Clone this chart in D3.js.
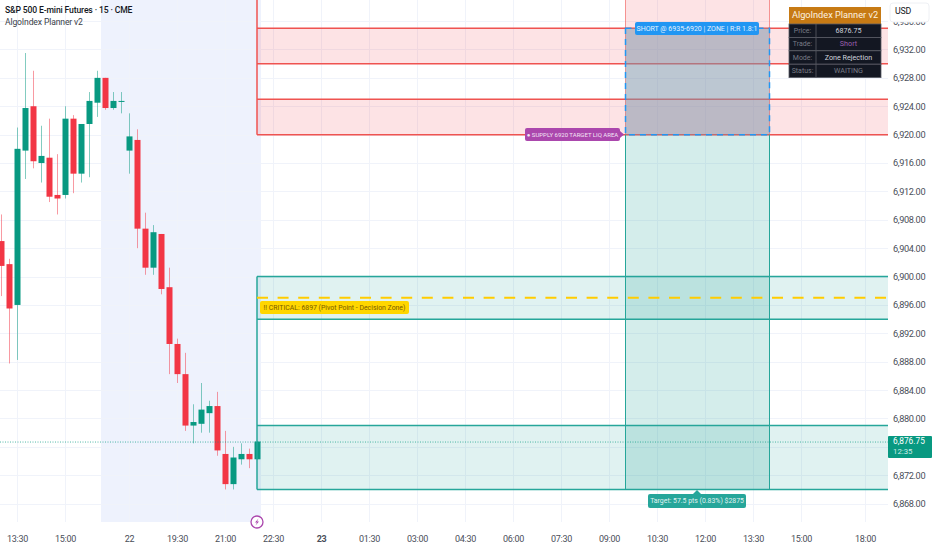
<!DOCTYPE html>
<html><head><meta charset="utf-8">
<script src="https://cdn.jsdelivr.net/npm/d3@7/dist/d3.min.js"></script>
<style>html,body{margin:0;padding:0;background:#fff;overflow:hidden}svg{display:block}text{font-family:Roboto,"Liberation Sans",sans-serif}</style>
</head><body><svg id="c" width="932" height="550"></svg>
<script>
const highs =[6908.75,6902.5,6921,6931.5,6929,6921.25,6922.25,6917.25,6924,6922.75,6921.5,6926,6929,6928,6926,6926,6923,6920.75,6909,6907.25,6906,6901.25,6891.25,6889.25,6882,6885,6882.5,6883.75,6878.25,6876,6876.5,6875.75,6876.75];
const opens =[6905,6901.75,6896,6917.75,6924,6916,6916.75,6911.5,6911.5,6922.25,6914.5,6921.5,6924.5,6928,6923.75,6924.75,6917.75,6919.25,6906.75,6901.25,6906,6898.5,6890.5,6886.25,6879,6879.25,6880.75,6881.75,6875,6870.75,6874.25,6875,6874.25];
const closes=[6901.5,6895.5,6918,6923.75,6916.25,6917,6911.25,6911,6922.25,6914.5,6921.5,6924.75,6928,6923.75,6924.75,6924.75,6919.75,6906.75,6901.25,6906.25,6898.25,6890.5,6886.25,6879,6879.5,6881.25,6881.75,6875.5,6870.75,6874.5,6875,6874.25,6876.75];
const lows  =[6897.25,6887.75,6888.25,6913.75,6915.25,6913.25,6910.5,6908.75,6911,6911.75,6913.25,6914,6922.5,6923.5,6923.5,6923,6914.5,6904,6900.25,6900.25,6897.5,6886.25,6885,6878.25,6876.5,6878,6878,6874.75,6870,6870,6873.5,6873,6874.25];
const gridPrices=[6868,6872,6876,6880,6884,6888,6892,6896,6900,6904,6908,6912,6916,6920,6924,6928,6932,6936];
const priceTicks=[6868,6872,6880,6884,6888,6892,6896,6900,6904,6908,6912,6916,6920,6924,6928,6932,6936];
const timeLabels=["13:30","15:00","22","19:30","21:00","22:30","23","01:30","03:00","04:30","06:00","07:30","09:00","10:30","12:00","13:30","15:00","18:00"];
const timeBars=[2,8,16,22,28,34,40,46,52,58,64,70,76,82,88,94,100,108];
const boldTimes=["23"];
const resistanceZones=[[6935,6930],[6925,6920]];
const supportZones=[[6900,6894],[6879,6870]];
const lastPrice=6876.75, criticalLevel=6897;
const sessionBars=[12.5,32.5], zoneStartBar=32, boxBars=[78,96], shortZone=[6935,6920], targetZone=[6920,6870];
const panelRows=[["Price:","6876.75","#d1d4dc"],["Trade:","Short","#9c5fb0"],["Mode:","Zone Rejection","#d1d4dc"],["Status:","WAITING","#787b86"]];

const W=932,H=550,plotR=888,plotB=522;
const x=d3.scaleLinear().domain([0,108]).range([1,865]);
const y=d3.scaleLinear().domain([6938.93,6865.37]).range([0.3,plotB+.3]);
const svg=d3.select("#c");
const G=svg.append("g");

G.append("rect").attr("x",x(sessionBars[0])).attr("width",x(sessionBars[1])-x(sessionBars[0]))
 .attr("y",0).attr("height",plotB).attr("fill","#eef2fd");

G.selectAll(".gh").data(gridPrices).join("line").attr("x1",0).attr("x2",plotR)
 .attr("y1",d=>Math.round(y(d))+.5).attr("y2",d=>Math.round(y(d))+.5).attr("stroke","#f0f3fa");
G.selectAll(".gv").data(timeBars).join("line").attr("x1",d=>x(d)+.5).attr("x2",d=>x(d)+.5)
 .attr("y1",0).attr("y2",plotB).attr("stroke","#f0f3fa");

const idx=d3.range(closes.length);
const col=i=>closes[i]>=opens[i]?"#089981":"#f23645";
G.selectAll(".w").data(idx).join("line").attr("x1",i=>x(i)+.5).attr("x2",i=>x(i)+.5)
 .attr("y1",i=>y(highs[i])).attr("y2",i=>y(lows[i])).attr("stroke",col).attr("stroke-opacity",.5).attr("stroke-width",1);
G.selectAll(".b").data(idx).join("rect").attr("x",i=>x(i)-2.5).attr("width",6)
 .attr("y",i=>y(Math.max(opens[i],closes[i]))).attr("height",i=>Math.max(1,Math.abs(y(opens[i])-y(closes[i])))).attr("fill",col);

const zx0=x(zoneStartBar), bx0=x(boxBars[0])+.5, bx1=x(boxBars[1])+.5;
const RED="#ef5350", TEAL="#26a69a";
function zones(data,fill,stroke){
  G.selectAll(null).data(data).join("rect").attr("x",zx0).attr("width",plotR-zx0)
   .attr("y",d=>y(d[0])).attr("height",d=>y(d[1])-y(d[0])).attr("fill",fill);
  const lv=data.flat();
  G.selectAll(null).data(lv).join("line").attr("x1",zx0).attr("x2",plotR)
   .attr("y1",d=>y(d)).attr("y2",d=>y(d)).attr("stroke",stroke).attr("stroke-width",1.5);
}
zones(resistanceZones,"rgba(242,54,69,.14)",RED);
zones(supportZones,"rgba(38,166,154,.14)",TEAL);
G.append("line").attr("x1",zx0).attr("x2",zx0).attr("y1",0).attr("y2",y(shortZone[1])).attr("stroke",RED).attr("stroke-width",1.5);
G.append("line").attr("x1",zx0).attr("x2",zx0).attr("y1",y(supportZones[0][0])).attr("y2",y(supportZones[1][1])).attr("stroke",TEAL).attr("stroke-width",1.5);

G.append("rect").attr("x",bx0).attr("width",bx1-bx0).attr("y",0).attr("height",y(targetZone[0])).attr("fill","rgba(242,54,69,.14)");
G.append("rect").attr("x",bx0).attr("width",bx1-bx0).attr("y",y(targetZone[0])).attr("height",y(targetZone[1])-y(targetZone[0])).attr("fill","rgba(38,166,154,.2)");
[bx0,bx1].forEach(v=>{
  G.append("line").attr("x1",v).attr("x2",v).attr("y1",0).attr("y2",y(targetZone[0])).attr("stroke",RED).attr("stroke-opacity",.6);
  G.append("line").attr("x1",v).attr("x2",v).attr("y1",y(targetZone[0])).attr("y2",y(targetZone[1])).attr("stroke",TEAL);
});
G.append("rect").attr("x",bx0).attr("width",bx1-bx0).attr("y",y(shortZone[0])).attr("height",y(shortZone[1])-y(shortZone[0]))
 .attr("fill","rgba(108,163,187,.45)").attr("stroke","#2196f3").attr("stroke-width",1.5).attr("stroke-dasharray","6 5");

G.append("line").attr("x1",zx0).attr("x2",plotR).attr("y1",y(criticalLevel)).attr("y2",y(criticalLevel))
 .attr("stroke","#ffcc00").attr("stroke-width",2).attr("stroke-dasharray","11 9.6");
G.append("line").attr("x1",0).attr("x2",plotR).attr("y1",y(lastPrice)+.5).attr("y2",y(lastPrice)+.5)
 .attr("stroke","#089981").attr("stroke-opacity",.7).attr("stroke-dasharray","1 1.5");

function label(x0,y0,w,h,bg,txt,color,fs){
  G.append("rect").attr("x",x0).attr("y",y0).attr("width",w).attr("height",h).attr("rx",2).attr("fill",bg);
  G.append("text").attr("x",x0+w/2).attr("y",y0+h/2+.5).attr("dominant-baseline","middle").attr("text-anchor","middle")
   .attr("font-size",fs).attr("fill",color).text(txt);
}
label(635,22,124,13,"#2196f3","SHORT @ 6935-6920 | ZONE | R:R 1.8:1","#e3f2fd",7);
label(525,128,95,13,"#ab47ad","● SUPPLY 6920 TARGET LIQ AREA","#f3e5f5",6);
G.append("path").attr("d","M620,131L624,134.500L620,138Z").attr("fill","#ab47ad");
label(260,301,149,13,"#ffd600","‼ CRITICAL: 6897 (Pivot Point - Decision Zone)","#7a5c00",6.9);
label(648,494,98,14,"#26a69a","Target: 57.5 pts (0.83%) $2875","#e0f2f1",6.9);
G.append("path").attr("d","M693,494L697,490L701,494Z").attr("fill","#26a69a");

G.append("circle").attr("cx",zx0).attr("cy",plotB).attr("r",6).attr("fill","#fff").attr("stroke","#ab47ad").attr("stroke-width",1.3);
G.append("path").attr("transform",`translate(${zx0},${plotB})`).attr("d","M1.500,-3.500L-2,.5H0L-1.500,3.500L2,-.5H0Z").attr("fill","#ab47ad");

const yAxis=d3.axisRight(y).tickValues(priceTicks).tickFormat(d3.format(",.2f")).tickSize(0).tickPadding(5);
const ya=svg.append("g").attr("transform",`translate(${plotR},0)`).call(yAxis);
ya.select(".domain").remove();
ya.selectAll("text").attr("font-size",9.2).attr("letter-spacing",-.38).attr("fill","#4a4e59").attr("font-family","Roboto");
const xAxis=d3.axisBottom(x).tickValues(timeBars).tickFormat((d,i)=>timeLabels[i]).tickSize(0).tickPadding(14);
const xa=svg.append("g").attr("transform",`translate(0,${plotB})`).call(xAxis);
xa.select(".domain").remove();
xa.selectAll("text").attr("font-size",9).attr("letter-spacing",-.3).attr("fill","#4a4e59").attr("font-family","Roboto")
  .attr("font-weight",(d,i)=>boldTimes.includes(timeLabels[i])?700:400);

svg.append("rect").attr("x",plotR).attr("y",436).attr("width",44).attr("height",22).attr("rx",1).attr("fill","#089981");
svg.append("text").attr("x",893).attr("y",442).attr("dominant-baseline","middle").attr("font-size",8.3).attr("fill","#fff").text(d3.format(",.2f")(lastPrice));
svg.append("text").attr("x",893).attr("y",452).attr("dominant-baseline","middle").attr("font-size",7.8).attr("fill","#cdebe6").text("12:35");

svg.append("rect").attr("x",890).attr("y",3).attr("width",39).attr("height",19).attr("rx",3).attr("fill","#fff").attr("stroke","#eef0f4");
svg.append("text").attr("x",895).attr("y",11.500).attr("dominant-baseline","middle").attr("font-size",8.8).attr("letter-spacing",-.2).attr("fill","#131722").text("USD");

const px=789,pw=92,px2=816;
svg.append("rect").attr("x",px).attr("y",7).attr("width",pw).attr("height",17).attr("fill","#c77a14");
svg.append("text").attr("x",px+pw/2).attr("y",16).attr("text-anchor","middle").attr("dominant-baseline","middle").attr("font-size",9.2).attr("fill","#fdf3e0").text("AlgoIndex Planner v2");
panelRows.forEach((r,i)=>{
  const ry=24+i*13.4;
  svg.append("rect").attr("x",px).attr("y",ry).attr("width",pw).attr("height",13.4).attr("fill","#131722").attr("stroke","#5a5d66").attr("stroke-width",.8);
  svg.append("line").attr("x1",px2).attr("x2",px2).attr("y1",ry).attr("y2",ry+13.4).attr("stroke","#5a5d66").attr("stroke-width",.8);
  svg.append("text").attr("x",(px+px2)/2).attr("y",ry+7).attr("text-anchor","middle").attr("dominant-baseline","middle").attr("font-size",7).attr("fill","#787b86").text(r[0]);
  svg.append("text").attr("x",(px2+px+pw)/2).attr("y",ry+7).attr("text-anchor","middle").attr("dominant-baseline","middle").attr("font-size",7.2).attr("fill",r[2]).text(r[1]);
});

svg.append("text").attr("x",5).attr("y",11).attr("dominant-baseline","middle").attr("font-size",8.6).attr("letter-spacing",-.14).attr("font-weight",500).attr("fill","#131722").text("S&P 500 E-mini Futures · 15 · CME");
svg.append("text").attr("x",5).attr("y",22.500).attr("dominant-baseline","middle").attr("font-size",8.6).attr("letter-spacing",-.14).attr("fill","#3a3e49").text("AlgoIndex Planner v2");
</script></body></html>
